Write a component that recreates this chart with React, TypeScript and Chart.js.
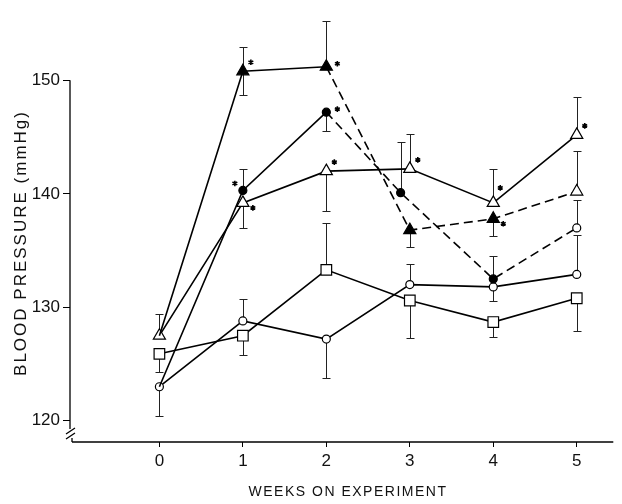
import React, { useEffect, useRef } from 'react';
import { Chart, registerables } from 'chart.js';

Chart.register(...registerables);

// ---- data ----
const weeks = [0, 1, 2, 3, 4, 5];
const yTickValues = [120, 130, 140, 150];
const xTitle = 'WEEKS ON EXPERIMENT';
const yTitle = 'BLOOD PRESSURE (mmHg)';

// filled triangles (dashed after week 2, open triangle at week 5)
const filledTriX = [0, 1, 2, 3, 4, 5];
const filledTriY = [127.5, 150.8, 151.2, 136.8, 137.8, 140.2];
const filledTriUp = [0, 2.1, 4.0, 0, 0, 3.6];
const filledTriDown = [0, 2.1, 0, 1.5, 1.5, 0];

// open triangles
const openTriX = [0, 1, 2, 3, 4, 5];
const openTriY = [127.5, 139.2, 142.0, 142.2, 139.2, 145.2];
const openTriUp = [1.9, 0, 0, 3.1, 3.0, 3.3];
const openTriDown = [0, 2.2, 3.5, 0, 0, 0];

// filled circles (dashed after week 2, open circle at week 5)
const filledCircX = [0, 1, 2, 2.89, 4, 5];
const filledCircY = [123.0, 140.3, 147.2, 140.1, 132.5, 137.0];
const filledCircUp = [0, 1.9, 0, 4.5, 2.0, 2.5];
const filledCircDown = [0, 0, 1.7, 0, 0, 0];

// open circles
const openCircX = [0, 1, 2, 3, 4, 5];
const openCircY = [123.0, 128.8, 127.2, 132.0, 131.8, 132.9];
const openCircUp = [0, 1.9, 0, 1.8, 0, 3.5];
const openCircDown = [2.6, 0, 3.4, 0, 1.2, 0];

// open squares
const squareX = [0, 1, 2, 3, 4, 5];
const squareY = [125.9, 127.5, 133.3, 130.6, 128.7, 130.8];
const squareUp = [0, 0, 4.1, 0, 0, 0];
const squareDown = [1.6, 1.7, 0, 3.3, 1.3, 2.9];

// significance asterisks: [series index, point index, side]
const asterisks: [number, number, string][] = [
  [0, 1, 'ar'], [0, 2, 'r'], [0, 4, 'br'],
  [1, 1, 'br'], [1, 2, 'ar'], [1, 3, 'ar'], [1, 4, 'ur'], [1, 5, 'ar'],
  [2, 1, 'al'], [2, 2, 'r'],
];

const errors = [
  { up: filledTriUp, down: filledTriDown },
  { up: openTriUp, down: openTriDown },
  { up: filledCircUp, down: filledCircDown },
  { up: openCircUp, down: openCircDown },
  { up: squareUp, down: squareDown },
];

const zip = (xs: number[], ys: number[]) => xs.map((x, i) => ({ x, y: ys[i] }));

const FONT = '"Liberation Sans", Arial, sans-serif';

const errorBarPlugin = {
  id: 'errbars',
  beforeDatasetsDraw(chart: any) {
    const { ctx, scales } = chart;
    const x = scales.x, y = scales.y;
    ctx.save();
    ctx.strokeStyle = '#222';
    ctx.lineWidth = 1;
    chart.data.datasets.forEach((ds: any, di: number) => {
      const err = errors[di];
      ds.data.forEach((p: any, i: number) => {
        const px = Math.round(x.getPixelForValue(p.x)) + 0.5;
        const py = y.getPixelForValue(p.y);
        const parts: [number, number][] = [[err.up[i], 1], [err.down[i], -1]];
        parts.forEach(([e, s]) => {
          if (!e) return;
          const ey = Math.round(y.getPixelForValue(p.y + s * e)) + 0.5;
          ctx.beginPath();
          ctx.moveTo(px, py);
          ctx.lineTo(px, ey);
          ctx.moveTo(px - 4, ey);
          ctx.lineTo(px + 4, ey);
          ctx.stroke();
        });
      });
    });
    ctx.restore();
  },
};

const starOffsets: Record<string, [number, number]> = {
  r: [11, -3],
  ar: [8, -9],
  ur: [7, -15],
  br: [10, 5],
  al: [-8, -7],
};

const decorPlugin = {
  id: 'decor',
  beforeDatasetsDraw(chart: any) {
    const { ctx, scales, chartArea } = chart;
    const y = scales.y;
    const ax = chartArea.left;
    const top = y.getPixelForValue(150);
    const bottom = chartArea.bottom;
    ctx.save();
    ctx.strokeStyle = '#000';
    ctx.lineWidth = 1.3;
    ctx.beginPath();
    // y axis with break
    ctx.moveTo(ax, top);
    ctx.lineTo(ax, bottom - 13);
    ctx.moveTo(ax - 4, bottom - 8);
    ctx.lineTo(ax + 5, bottom - 14);
    ctx.moveTo(ax - 4, bottom - 3);
    ctx.lineTo(ax + 5, bottom - 9);
    ctx.moveTo(ax + 2, bottom - 4);
    ctx.lineTo(ax + 2, bottom);
    ctx.stroke();
    // x axis
    ctx.lineWidth = 1.6;
    ctx.beginPath();
    ctx.moveTo(ax + 2, bottom);
    ctx.lineTo(chartArea.right, bottom);
    ctx.stroke();
    ctx.restore();
  },
  afterDatasetsDraw(chart: any) {
    const { ctx } = chart;
    ctx.save();
    ctx.strokeStyle = '#000';
    ctx.lineWidth = 1.6;
    asterisks.forEach(([di, pi, side]) => {
      const el = chart.getDatasetMeta(di).data[pi];
      const [dx, dy] = starOffsets[side];
      const cx = el.x + dx, cy = el.y + dy;
      const r = 2.8;
      ctx.beginPath();
      for (let k = 0; k < 3; k++) {
        const a = (Math.PI / 3) * k + Math.PI / 2;
        ctx.moveTo(cx + Math.cos(a) * r, cy + Math.sin(a) * r);
        ctx.lineTo(cx - Math.cos(a) * r, cy - Math.sin(a) * r);
      }
      ctx.stroke();
    });
    ctx.restore();
  },
  afterDraw(chart: any) {
    const { ctx } = chart;
    ctx.save();
    ctx.fillStyle = '#111';
    ctx.textAlign = 'center';
    ctx.textBaseline = 'middle';
    ctx.font = `14px ${FONT}`;
    (ctx as any).letterSpacing = '1.5px';
    ctx.fillText(xTitle, 348, 492);
    ctx.font = `17px ${FONT}`;
    (ctx as any).letterSpacing = '2px';
    ctx.translate(21, 243);
    ctx.rotate(-Math.PI / 2);
    ctx.fillText(yTitle, 0, 0);
    ctx.restore();
  },
};

const dashAfterWeek2 = (c: any) => (c.p0DataIndex >= 2 ? [9, 5] : undefined);

export default function App() {
  const ref = useRef<HTMLCanvasElement | null>(null);
  useEffect(() => {
    if (!ref.current) return;
    const common = {
      borderColor: '#000',
      pointBorderColor: '#000',
      borderWidth: 1.6,
      pointBorderWidth: 1.2,
      tension: 0,
      fill: false,
      clip: false as any,
    };
    const chart = new Chart(ref.current, {
      type: 'line',
      data: {
        datasets: [
          {
            ...common,
            label: 'filled triangle',
            data: zip(filledTriX, filledTriY),
            pointStyle: 'triangle',
            pointRadius: [0, 7, 7, 7, 7, 7],
            pointBackgroundColor: ['#000', '#000', '#000', '#000', '#000', '#fff'],
            segment: { borderDash: dashAfterWeek2 },
          },
          {
            ...common,
            label: 'open triangle',
            data: zip(openTriX, openTriY),
            pointStyle: 'triangle',
            pointRadius: 7,
            pointBackgroundColor: '#fff',
          },
          {
            ...common,
            label: 'filled circle',
            data: zip(filledCircX, filledCircY),
            pointStyle: 'circle',
            pointRadius: [0, 4, 4, 4, 4, 4],
            pointBackgroundColor: ['#000', '#000', '#000', '#000', '#000', '#fff'],
            segment: { borderDash: dashAfterWeek2 },
          },
          {
            ...common,
            label: 'open circle',
            data: zip(openCircX, openCircY),
            pointStyle: 'circle',
            pointRadius: 4,
            pointBackgroundColor: '#fff',
          },
          {
            ...common,
            label: 'open square',
            data: zip(squareX, squareY),
            pointStyle: 'rect',
            pointRadius: 7.5,
            pointBackgroundColor: '#fff',
          },
        ] as any,
      },
      options: {
        animation: false,
        responsive: true,
        maintainAspectRatio: false,
        layout: { padding: { top: 8, right: 2, left: 0, bottom: 0 } },
        plugins: { legend: { display: false }, tooltip: { enabled: false } },
        scales: {
          x: {
            type: 'linear',
            min: -1.071,
            max: 5.438,
            afterBuildTicks: (s: any) => { s.ticks = weeks.map((v) => ({ value: v })); },
            afterFit: (s: any) => { s.height = 62; },
            ticks: { color: '#111', font: { family: FONT, size: 17 }, padding: 4, maxRotation: 0 },
            grid: { display: true, drawOnChartArea: false, drawTicks: true, tickLength: 5, color: '#000', lineWidth: 1 },
            border: { display: false },
          },
          y: {
            type: 'linear',
            min: 118.13,
            max: 155.92,
            afterBuildTicks: (s: any) => { s.ticks = yTickValues.map((v) => ({ value: v })); },
            afterFit: (s: any) => { s.width = 70; },
            ticks: { color: '#111', font: { family: FONT, size: 17 }, padding: 3 },
            grid: { display: true, drawOnChartArea: false, drawTicks: true, tickLength: 7, color: '#000', lineWidth: 1 },
            border: { display: false },
          },
        },
      } as any,
      plugins: [errorBarPlugin, decorPlugin],
    });
    return () => chart.destroy();
  }, []);
  return (
    <div style={{ position: 'absolute', left: 0, top: 0, width: 622, height: 504, background: '#fff' }}>
      <canvas ref={ref} />
    </div>
  );
}
